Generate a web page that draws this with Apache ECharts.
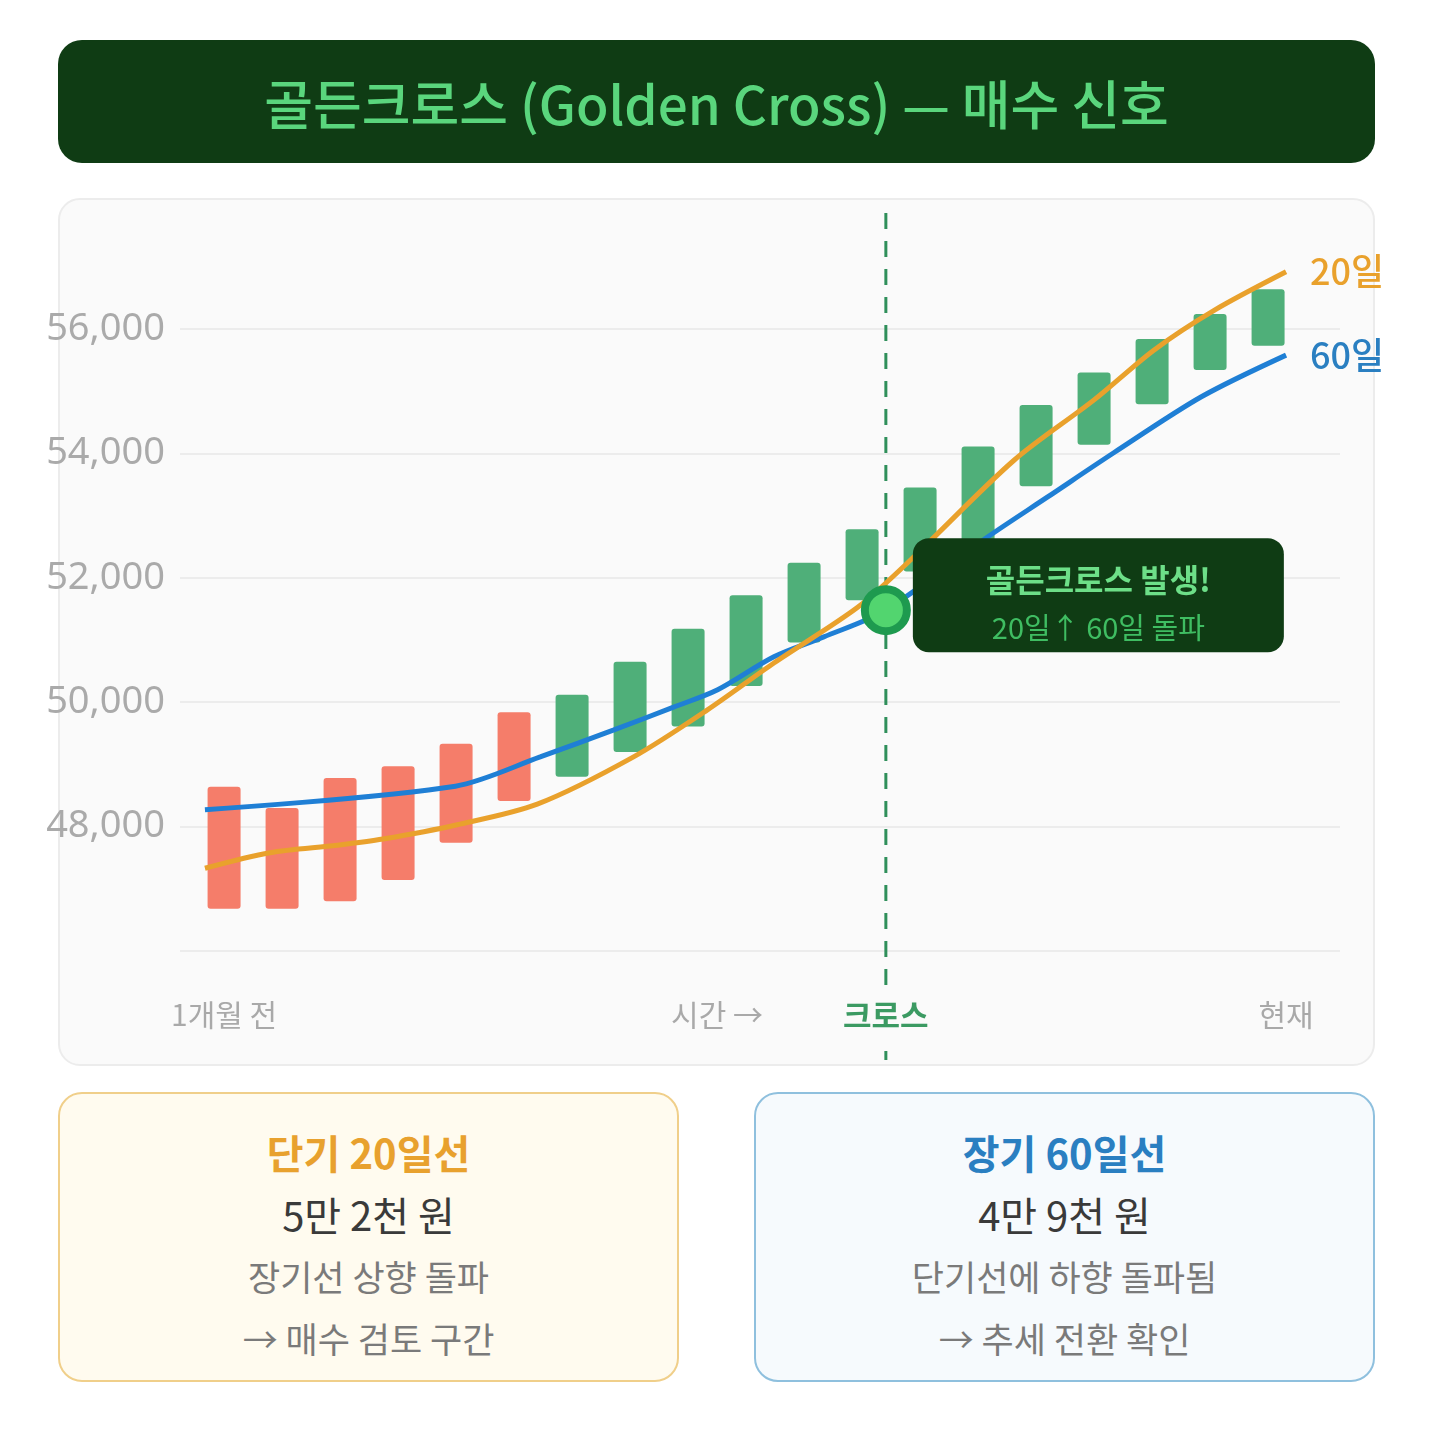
<!DOCTYPE html>
<html>
<head>
<meta charset="utf-8">
<script src="https://cdn.jsdelivr.net/npm/echarts@6/dist/echarts.min.js"></script>
<style>
  body { margin: 0; background: #fff; font-family: "Noto Sans CJK KR", "Noto Sans", sans-serif; }
  #page { position: relative; width: 1437px; height: 1440px; overflow: hidden; }
  .title {
    position: absolute; left: 58px; top: 40px; width: 1317px; height: 123px;
    background: #0f3c14; border-radius: 24px; color: #5ad67d;
    font-size: 53px; font-weight: 500;
    display: flex; align-items: center; justify-content: center;
  }
  .panel {
    position: absolute; left: 58px; top: 198px; width: 1313px; height: 864px;
    background: #fafafa; border: 2px solid #ececec; border-radius: 22px;
  }
  #main { position: absolute; left: 0; top: 198px; width: 1437px; height: 868px; }
  .card {
    position: absolute; top: 1092px; width: 621px; height: 290px;
    border-radius: 24px; border: 2px solid; text-align: center;
    padding-top: 27px; box-sizing: border-box;
  }
  .card div { line-height: 62px; height: 62px; }
  .card .h { font-size: 40px; font-weight: 700; }
  .card .v { font-size: 40px; color: #3a3a3a; }
  .card .t { font-size: 35px; color: #7a7a7a; }
  .left { left: 58px; background: #fffbef; border-color: #f0cf8a; }
  .left .h { color: #e8a12e; }
  .right { left: 754px; background: #f6fafd; border-color: #8fc0de; }
  .right .h { color: #2a7fc1; }
</style>
</head>
<body>
<div id="page">
  <div class="title">골든크로스 (Golden Cross) — 매수 신호</div>
  <div class="panel"></div>
  <div id="main"></div>
  <div class="card left">
    <div class="h">단기 20일선</div>
    <div class="v">5만 2천 원</div>
    <div class="t">장기선 상향 돌파</div>
    <div class="t">→ 매수 검토 구간</div>
  </div>
  <div class="card right">
    <div class="h">장기 60일선</div>
    <div class="v">4만 9천 원</div>
    <div class="t">단기선에 하향 돌파됨</div>
    <div class="t">→ 추세 전환 확인</div>
  </div>
</div>
<script>
// 캔들 (시가, 종가) — 인덱스 0..18
var barOpen  = [48640, 48300, 48780, 48970, 49330, 49840, 48800, 49200, 49610, 50260,
                50960, 51640, 52100, 52450, 53470, 54140, 54790, 55340, 55730];
var barClose = [46680, 46680, 46800, 47140, 47740, 48410, 50120, 50650, 51180, 51720,
                52240, 52780, 53450, 54110, 54780, 55300, 55840, 56240, 56640];

// 20일 이동평균선 (x 위치, 값)
var ma20X = [-0.33, 0.79, 1.95, 2.74, 4.02, 5.40, 7.06, 8.34, 9.48, 10.93, 11.84, 13.62, 15.00, 16.03, 17.07, 18.31];
var ma20Y = [47330, 47580, 47700, 47800, 48030, 48360, 49120, 49880, 50630, 51530, 52290, 53890, 54860, 55660, 56300, 56920];

// 60일 이동평균선
var ma60X = [-0.33, 3.99, 5.45, 6.71, 7.75, 8.51, 9.48, 10.34, 11.41, 13.17, 14.20, 15.34, 16.85, 18.31];
var ma60Y = [48270, 48650, 49120, 49550, 49920, 50200, 50730, 51050, 51480, 52660, 53300, 54010, 54910, 55580];

// 크로스 지점
var crossX = 11.41, crossY = 51480;

var yTicks = [48000, 50000, 52000, 54000, 56000];
var xTickPos = [0, 8.5, 11.41, 18.31];
var xTickText = ['1개월 전', '시간 →', '크로스', '현재'];

var RED = '#f57d6a', GREEN = '#4faf79', ORANGE = '#e9a12c', BLUE = '#1f7fd5';

function pairs(xs, ys) {
  return xs.map(function (x, i) { return [x, ys[i]]; });
}

var myChart = echarts.init(document.getElementById('main'));

myChart.setOption({
  animation: false,
  grid: { left: 180, right: 97, top: 6.6, bottom: 115 },
  xAxis: {
    type: 'value', min: -0.76, max: 19.24,
    axisLine: { show: false }, axisTick: { show: false }, splitLine: { show: false },
    axisLabel: {
      customValues: xTickPos,
      margin: 49,
      fontSize: 30, color: '#a9a9a9', fontFamily: 'Noto Sans CJK KR',
      formatter: function (v) {
        for (var i = 0; i < xTickPos.length; i++) {
          if (Math.abs(xTickPos[i] - v) < 0.01) {
            return xTickText[i] === '크로스' ? '{g|' + xTickText[i] + '}' : xTickText[i];
          }
        }
        return '';
      },
      rich: { g: { fontSize: 31, color: '#3b9a62', fontWeight: 'bold', fontFamily: 'Noto Sans CJK KR' } }
    }
  },
  yAxis: {
    type: 'value', min: 46000, max: 58000, interval: 2000,
    axisLine: { show: false }, axisTick: { show: false },
    splitLine: { show: true, showMaxLine: false, lineStyle: { color: '#ececec', width: 2 } },
    axisLabel: {
      margin: 15, fontSize: 38, color: '#aaaaaa', fontFamily: 'Noto Sans',
      formatter: function (v) {
        return yTicks.indexOf(v) >= 0 ? v.toLocaleString('en-US') : '';
      }
    }
  },
  series: [
    {
      type: 'custom',
      z: 2,
      data: barOpen.map(function (o, i) { return [i, o, barClose[i]]; }),
      encode: { x: 0, y: [1, 2] },
      renderItem: function (params, api) {
        var x = api.value(0), o = api.value(1), c = api.value(2);
        var top = api.coord([x, Math.max(o, c)]);
        var bot = api.coord([x, Math.min(o, c)]);
        var w = 33;
        return {
          type: 'rect',
          shape: { x: top[0] - w / 2, y: top[1], width: w, height: bot[1] - top[1], r: 3 },
          style: { fill: c >= o ? GREEN : RED }
        };
      }
    },
    {
      name: '60일', type: 'line', z: 3,
      data: pairs(ma60X, ma60Y),
      smooth: 0.3, showSymbol: false,
      lineStyle: { color: BLUE, width: 5 },
      endLabel: { show: true, formatter: '60일', color: '#2a7fc1', fontSize: 36, fontWeight: 500, distance: 24, fontFamily: 'Noto Sans CJK KR' }
    },
    {
      name: '20일', type: 'line', z: 4,
      data: pairs(ma20X, ma20Y),
      smooth: 0.3, showSymbol: false,
      lineStyle: { color: ORANGE, width: 5 },
      endLabel: { show: true, formatter: '20일', color: '#e9a12c', fontSize: 36, fontWeight: 500, distance: 24, fontFamily: 'Noto Sans CJK KR' }
    },
    {
      type: 'scatter', z: 10,
      data: [[crossX, crossY]],
      symbolSize: 42,
      itemStyle: { color: '#52d56f', borderColor: '#1e9a4f', borderWidth: 8, opacity: 1 }
    }
  ]
});

// 크로스 점선 (라벨 부분은 비움)과 안내 박스
var p = myChart.convertToPixel({ gridIndex: 0 }, [crossX, crossY]);
var bx = p[0] + 27, by = p[1] - 72, bw = 371, bh = 114;
var dash = { stroke: '#2f8f5a', lineWidth: 3, lineDash: [16, 12] };
myChart.setOption({
  graphic: [
    { type: 'line', z: 1, silent: true, shape: { x1: p[0], y1: 15, x2: p[0], y2: 790 }, style: dash },
    { type: 'line', z: 1, silent: true, shape: { x1: p[0], y1: 853, x2: p[0], y2: 862 }, style: dash },
    {
      type: 'rect', z: 100,
      shape: { x: bx, y: by, width: bw, height: bh, r: 16 },
      style: { fill: '#0f3c14' }
    },
    {
      type: 'text', z: 101,
      x: bx + bw / 2, y: by + 42,
      style: { text: '골든크로스 발생!', fill: '#6ddf88', fontSize: 32, fontWeight: 'bold',
               fontFamily: 'Noto Sans CJK KR', align: 'center', verticalAlign: 'middle' }
    },
    {
      type: 'text', z: 101,
      x: bx + bw / 2, y: by + 90,
      style: { text: '20일↑ 60일 돌파', fill: '#3fbd62', fontSize: 29,
               fontFamily: 'Noto Sans CJK KR', align: 'center', verticalAlign: 'middle' }
    }
  ]
});
</script>
</body>
</html>
